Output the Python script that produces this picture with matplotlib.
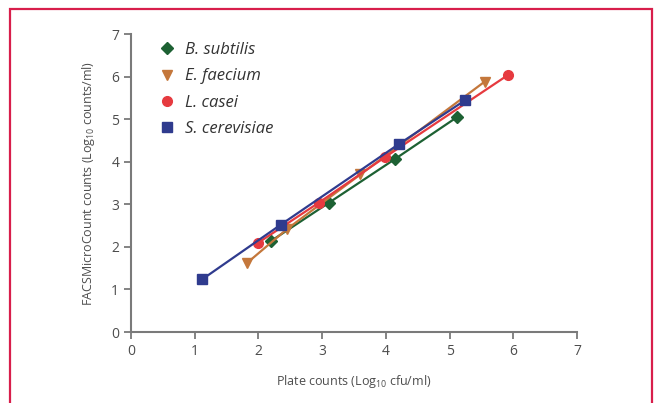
import matplotlib
matplotlib.use("Agg")
import matplotlib.pyplot as plt
from matplotlib.patches import Rectangle

# data (log10 values)
bsub_x = [2.2, 3.1, 4.15, 5.12]
bsub_y = [2.14, 3.03, 4.07, 5.05]

efae_x = [1.82, 2.45, 3.6, 5.55]
efae_y = [1.62, 2.42, 3.7, 5.88]

lcas_x = [2.0, 2.95, 3.98, 5.92]
lcas_y = [2.1, 3.04, 4.1, 6.04]

scer_x = [1.12, 2.35, 4.2, 5.25]
scer_y = [1.24, 2.52, 4.41, 5.45]

series = [
    ("B. subtilis", bsub_x, bsub_y, "#1d6133", "D", 6.5),
    ("E. faecium", efae_x, efae_y, "#c4773b", "v", 7.5),
    ("L. casei", lcas_x, lcas_y, "#e63a3f", "o", 7),
    ("S. cerevisiae", scer_x, scer_y, "#2f3b8e", "s", 6.5),
]

ticks = [0, 1, 2, 3, 4, 5, 6, 7]

plt.rcParams['font.family'] = ['Open Sans', 'DejaVu Sans']
plt.rcParams['mathtext.default'] = 'regular'

fig = plt.figure(figsize=(6.54, 4.03), dpi=100)
ax = fig.add_axes([131 / 654, 1 - 332 / 403, 446 / 654, 298 / 403])

for label, xs, ys, color, marker, ms in series:
    ax.plot(xs, ys, color=color, marker=marker, markersize=ms, linewidth=1.6,
            label=label, markeredgecolor=color)

ax.set_xlim(0, 7)
ax.set_ylim(0, 7)
ax.set_xticks(ticks)
ax.set_yticks(ticks)

grey = "#7a7a7a"
for side in ("top", "right"):
    ax.spines[side].set_visible(False)
for side in ("left", "bottom"):
    ax.spines[side].set_color(grey)
    ax.spines[side].set_linewidth(1.5)
ax.tick_params(direction="out", length=5, width=1.3, color=grey,
               labelcolor="#4d4d4d", labelsize=10)

ax.set_xlabel(r"Plate counts (Log$_{10}$ cfu/ml)", fontsize=9, color="#4d4d4d", labelpad=10)
ax.set_ylabel(r"FACSMicroCount counts (Log$_{10}$ counts/ml)", fontsize=9, color="#4d4d4d", labelpad=10)

leg = ax.legend(loc="upper left", bbox_to_anchor=(0.05, 0.995), frameon=False,
                prop={"style": "italic", "size": 12}, handlelength=0.8,
                handletextpad=0.7, labelspacing=0.62, borderaxespad=0)
for h in leg.legend_handles:
    h.set_linestyle("none")
for t in leg.get_texts():
    t.set_color("#333333")

# red frame around the figure
fig.patches.append(Rectangle((10 / 654, -0.05), 642 / 654, 1 - 9 / 403 + 0.05,
                             transform=fig.transFigure, fill=False,
                             edgecolor="#d81e4b", linewidth=1.6))

fig.savefig("out.png", dpi=100)
